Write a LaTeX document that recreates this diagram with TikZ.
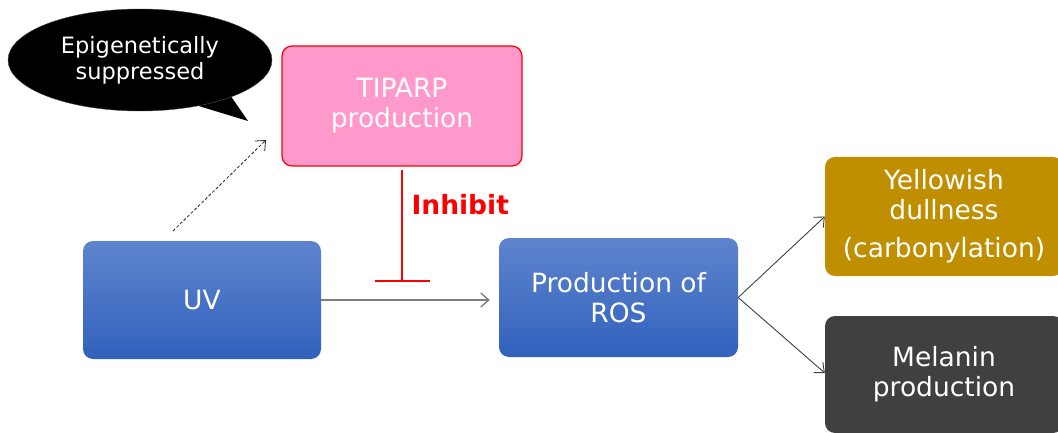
\documentclass[tikz,border=0pt]{standalone}
\usepackage{fontspec}
\setmainfont{DejaVu Sans}
\usetikzlibrary{arrows.meta,shapes.geometric}
\definecolor{tipink}{HTML}{FF99CC}
\definecolor{blueTop}{HTML}{5F84CE}
\definecolor{blueBot}{HTML}{3062BC}
\definecolor{ochre}{HTML}{BF8F00}
\definecolor{charcoal}{HTML}{404040}
\definecolor{linkgray}{HTML}{7F7F7F}
\tikzset{
  box/.style={rectangle, rounded corners=10pt, inner sep=0pt, align=center,
    text=white, font=\fontsize{26.5}{30}\selectfont},
  bluebox/.style={box, top color=blueTop, bottom color=blueBot},
  barb/.style={-{Straight Barb[length=8pt,width=14pt]}},
}
\begin{document}
\begin{tikzpicture}[x=1pt,y=-1pt]
\useasboundingbox (0,0) rectangle (1058,433);
\clip (0,0) rectangle (1058,433);

% speech bubble
\fill[black] (192,104) -- (248,121) -- (228,92) -- cycle;
\node[ellipse, fill=black, draw=black!70, minimum width=264pt, minimum height=102pt,
  inner sep=0pt, align=center, text=white, font=\fontsize{22.5}{26}\selectfont]
  (bubble) at (140,60) {Epigenetically\\suppressed};

% boxes
\node[box, fill=tipink, draw=red, line width=1.2pt, minimum width=240pt, minimum height=120pt]
  (tiparp) at (402,106) {TIPARP\\production};
\node[bluebox, minimum width=238pt, minimum height=118pt] (uv) at (202,300) {UV};
\node[bluebox, minimum width=239pt, minimum height=119pt] (ros) at (618.5,297.5) {Production of\\ROS};
\node[box, fill=ochre, minimum width=238pt, minimum height=119pt] (yellow) at (944,216.5)
  {Yellowish\\dullness\\[8pt](carbonylation)};
\node[box, fill=charcoal, minimum width=238pt, minimum height=117pt] (melanin) at (944,374.5)
  {Melanin\\production};

% inhibition
\coordinate (block) at (402,281);
\draw[red, line width=2pt, shorten <=3pt] (tiparp.south) -- (block);
\draw[red, line width=2pt] ([xshift=-27pt]block) -- ([xshift=28pt]block);
\node[anchor=west, text=red, font=\bfseries\fontsize{26.5}{30}\selectfont] (inhibit) at (408,205) {Inhibit};

% dotted link from UV towards TIPARP
\coordinate (dotA) at (173,231);
\coordinate (dotB) at (266,140);
\draw[barb, densely dashed, line width=0.8pt, black!85] (dotA) -- (dotB);

% main pathway
\draw[barb, linkgray, line width=1.4pt, shorten >=9pt] (uv.east) -- (uv.east -| ros.west);
\draw[barb, charcoal, line width=0.9pt] (ros.east) -- (yellow.west);
\draw[barb, charcoal, line width=0.9pt] (ros.east) -- ([yshift=1.5pt]melanin.west);
\end{tikzpicture}
\end{document}
